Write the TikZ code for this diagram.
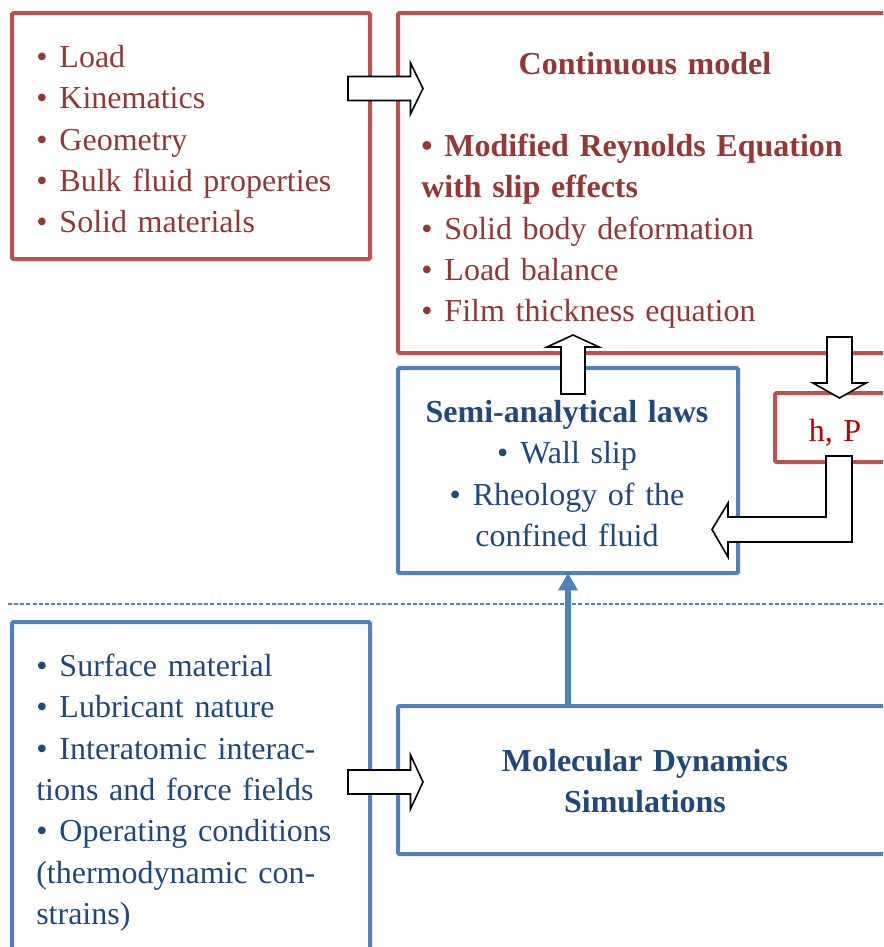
\documentclass[tikz,border=0pt]{standalone}
\usepackage{fontspec}
\setmainfont{Liberation Serif}
\usepackage{xcolor}
\definecolor{cmred}{HTML}{C0504D}
\definecolor{cmtxt}{HTML}{953735}
\definecolor{mdblue}{HTML}{4F81BD}
\definecolor{mdtxt}{HTML}{1F497D}
\definecolor{hpred}{HTML}{C00000}
\usepackage{tikz}
\usetikzlibrary{arrows.meta,positioning,calc}
\newcommand{\bul}{\textbullet\hspace{9pt}}
\tikzset{
  hollow/.style={draw=black,line width=1.2pt,fill=white,line join=miter},
  pics/blockarrow/.style n args={4}{code={%
    \draw[hollow] (0,-#2) -- ({#1-#4},-#2) -- ({#1-#4},-#3) -- (#1,0)
      -- ({#1-#4},#3) -- ({#1-#4},#2) -- (0,#2) -- cycle;}}
}

\begin{document}
\begin{tikzpicture}[x=0.75pt,y=-0.75pt,
  box/.style={line width=3pt,rounded corners=1pt,anchor=north west,inner sep=0pt,outer sep=0pt},
  redbox/.style={box,draw=cmred},
  bluebox/.style={box,draw=mdblue},
  txt/.style={font=\fontsize{24pt}{31pt}\selectfont,inner sep=0pt,text width=330pt},
  redtxt/.style={txt,text=cmtxt,align=left,anchor=base west},
  bluetxt/.style={txt,text=mdtxt,align=left,anchor=base west},
  redhead/.style={txt,text=cmtxt,align=center,anchor=base,font=\fontsize{24pt}{31pt}\selectfont\bfseries},
  bluehead/.style={txt,text=mdtxt,align=center,anchor=base},
  mdflow/.style={draw=mdblue,line width=4.5pt,-{Triangle[length=13pt,width=14pt]}},
  sepline/.style={draw=mdblue,line width=1.2pt,dash pattern=on 3pt off 1.6pt}]
\path[use as bounding box,fill=white] (0,0) rectangle (883,947);
\clip (0,0) rectangle (883,947);

% continuous side
\node[redbox,minimum width=268.5pt,minimum height=184.5pt] (inputs) at (12,13) {};
\node[redtxt] (inputlist) at (36,67.5) {\bul Load\\ \bul Kinematics\\ \bul Geometry\\
  \bul Bulk fluid properties\\ \bul Solid materials};
\node[redbox,minimum width=376.5pt,minimum height=255pt] (contmodel) at (398,13) {};
\node[redhead] (conttitle) at (645,74.5) {Continuous model};
\node[redtxt] (contlist) at (421,156.5) {\textbf{\bul Modified Reynolds Equation}\\
  \textbf{with slip effects}\\ \bul Solid body deformation\\ \bul Load balance\\
  \bul Film thickness equation};
\node[redbox,minimum width=93.75pt,minimum height=51.75pt] (hp) at (775,393) {};
\node[txt,text=hpred,align=center,anchor=base] (hptxt) at (835,441) {h, P};

% semi-analytical laws
\node[bluebox,minimum width=255pt,minimum height=153.75pt] (semi) at (398,368) {};
\node[bluehead] (semitxt) at (567,422.5) {\textbf{Semi-analytical laws}\\ \bul Wall slip\\
  \bul Rheology of the\\ confined fluid};

% molecular side
\draw[sepline] (8,604) coordinate (sepl) -- (890,604) coordinate (sepr);
\node[bluebox,minimum width=268.5pt,minimum height=253.5pt] (mdinputs) at (12,622) {};
\node[bluetxt] (mdlist) at (36,676.5) {\bul Surface material\\ \bul Lubricant nature\\
  \bul Interatomic interac-\\ tions and force fields\\ \bul Operating conditions\\
  (thermodynamic con-\\ strains)};
\node[bluebox,minimum width=376.5pt,minimum height=111pt] (mds) at (398,706) {};
\node[bluehead] (mdstxt) at (645,771.5) {\textbf{Molecular Dynamics}\\ \textbf{Simulations}};

% connectors
\pic at (348,88.5) {blockarrow={75}{12}{25.5}{12.5}};
\pic at (348,782) {blockarrow={75}{12}{27}{12.5}};
\pic[rotate=90] at (573,394) {blockarrow={59}{12}{26}{12}};
\pic[rotate=-90] at (839.5,337) {blockarrow={61}{12.5}{26.5}{15}};
\draw[hollow] (826,456) -- (826,517) -- (728,517) -- (728,503) -- (712,529.5)
  -- (728,557) -- (728,542) -- (852,542) -- (852,456) -- cycle;
\draw[mdflow] (mds.north -| semi.south) -- (semi.south);
\end{tikzpicture}
\end{document}
